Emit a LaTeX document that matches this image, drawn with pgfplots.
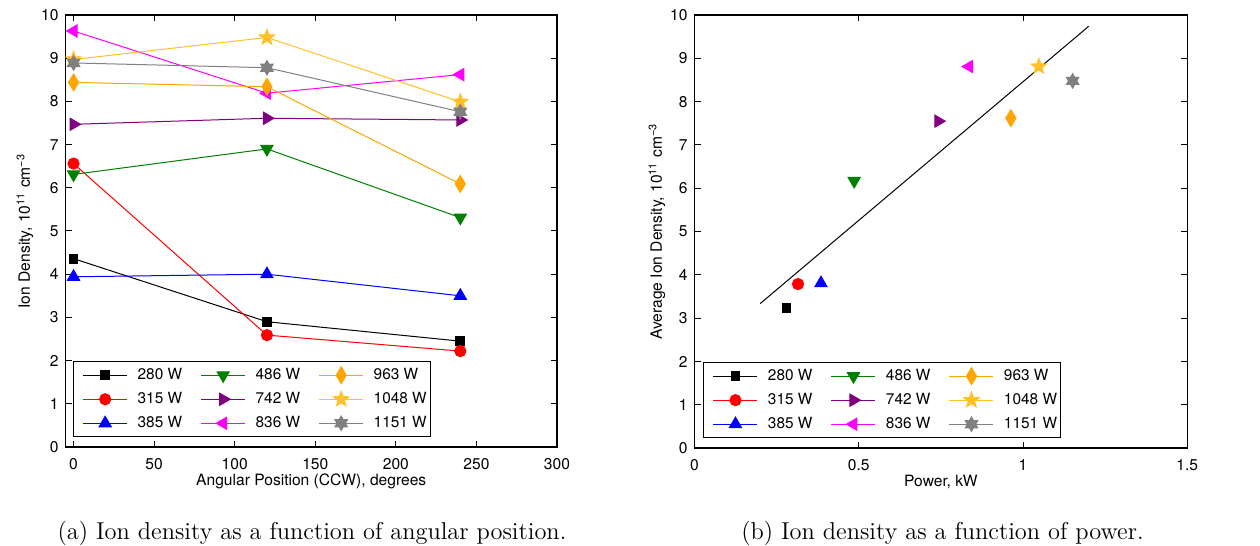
\documentclass[border=0pt]{standalone}
\usepackage{fontspec}
\usepackage{pgfplots}
\pgfplotsset{compat=1.18}
\newfontfamily\hv{TeX Gyre Heros}
\definecolor{mgreen}{rgb}{0,0.5,0}
\definecolor{mpurple}{rgb}{0.5,0,0.5}
\definecolor{mmagenta}{rgb}{1,0,1}
\definecolor{mred}{rgb}{1,0,0}
\definecolor{mblue}{rgb}{0,0,1}
\definecolor{morange}{rgb}{1,0.647,0}
\definecolor{mgold}{RGB}{255,192,40}
\definecolor{mgray}{rgb}{0.5,0.5,0.5}

\pgfdeclareplotmark{starfive}{%
  \pgfpathmoveto{\pgfqpointpolar{90}{\pgfplotmarksize}}%
  \pgfpathlineto{\pgfqpointpolar{126}{0.42\pgfplotmarksize}}%
  \pgfpathlineto{\pgfqpointpolar{162}{\pgfplotmarksize}}%
  \pgfpathlineto{\pgfqpointpolar{198}{0.42\pgfplotmarksize}}%
  \pgfpathlineto{\pgfqpointpolar{234}{\pgfplotmarksize}}%
  \pgfpathlineto{\pgfqpointpolar{270}{0.42\pgfplotmarksize}}%
  \pgfpathlineto{\pgfqpointpolar{306}{\pgfplotmarksize}}%
  \pgfpathlineto{\pgfqpointpolar{342}{0.42\pgfplotmarksize}}%
  \pgfpathlineto{\pgfqpointpolar{18}{\pgfplotmarksize}}%
  \pgfpathlineto{\pgfqpointpolar{54}{0.42\pgfplotmarksize}}%
  \pgfpathclose
  \pgfusepathqfillstroke
}
\pgfdeclareplotmark{hexagram}{%
  \pgfpathmoveto{\pgfqpointpolar{90}{\pgfplotmarksize}}%
  \pgfpathlineto{\pgfqpointpolar{120}{0.577\pgfplotmarksize}}%
  \pgfpathlineto{\pgfqpointpolar{150}{\pgfplotmarksize}}%
  \pgfpathlineto{\pgfqpointpolar{180}{0.577\pgfplotmarksize}}%
  \pgfpathlineto{\pgfqpointpolar{210}{\pgfplotmarksize}}%
  \pgfpathlineto{\pgfqpointpolar{240}{0.577\pgfplotmarksize}}%
  \pgfpathlineto{\pgfqpointpolar{270}{\pgfplotmarksize}}%
  \pgfpathlineto{\pgfqpointpolar{300}{0.577\pgfplotmarksize}}%
  \pgfpathlineto{\pgfqpointpolar{330}{\pgfplotmarksize}}%
  \pgfpathlineto{\pgfqpointpolar{0}{0.577\pgfplotmarksize}}%
  \pgfpathlineto{\pgfqpointpolar{30}{\pgfplotmarksize}}%
  \pgfpathlineto{\pgfqpointpolar{60}{0.577\pgfplotmarksize}}%
  \pgfpathclose
  \pgfusepathqfillstroke
}

\pgfplotsset{
  s280/.style={color=black, mark=square*, mark size=2.2pt},
  s315/.style={color=mred, mark=*, mark size=2.8pt},
  s385/.style={color=mblue, mark=triangle*, mark size=3.5pt},
  s486/.style={color=mgreen, mark=triangle*, mark size=3.5pt, mark options={rotate=180}},
  s742/.style={color=mpurple, mark=triangle*, mark size=3.5pt, mark options={rotate=-90}},
  s836/.style={color=mmagenta, mark=triangle*, mark size=3.5pt, mark options={rotate=90}},
  s963/.style={color=morange, mark=diamond*, mark size=4.2pt, mark options={xscale=0.8}},
  s1048/.style={color=mgold, mark=starfive, mark size=4pt},
  s1151/.style={color=mgray, mark=hexagram, mark size=3.6pt},
  mystyle/.style={
    scale only axis,
    axis line style={line width=0.8pt},
    tick align=inside,
    major tick length=3pt,
    tick style={black, line width=0.5pt},
    /pgf/number format/assume math mode=true,
    ticklabel style={font=\hv\fontsize{7.8}{9}\selectfont},
    xticklabel style={yshift=-2pt},
    label style={font=\hv\fontsize{7.8}{9.5}\selectfont},
    xlabel style={at={(axis description cs:0.5,0)}, anchor=base, yshift=-19.3pt},
    every axis plot/.append style={line width=0.5pt},
    legend columns=3, transpose legend, legend cell align=left,
    legend image code/.code={%
      \path[draw=none,fill=none] (-3.3pt,-6pt) rectangle (22pt,6pt);
      \draw[mark repeat=2,mark phase=2,##1] plot coordinates {(0pt,0pt)(11pt,0pt)(22pt,0pt)};},
    legend style={font=\hv\fontsize{7.7}{9}\selectfont, draw=black, line width=0.5pt,
      inner xsep=1.7pt, inner ysep=0.65pt, anchor=south west,
      nodes={inner xsep=0pt, inner ysep=0pt},
      /tikz/every odd column/.append style={column sep=5pt},
      /tikz/every even column/.append style={column sep=6.2pt}},
  },
  minorstyle/.style={
    scale only axis, hide y axis, axis x line*=bottom, xtick=\empty,
    xtick align=inside, minor tick length=2pt,
    x axis line style={line width=0.8pt},
    minor tick style={black, line width=0.5pt},
  },
}

\begin{document}
\begin{tikzpicture}
\useasboundingbox (0,0) rectangle (630pt,273pt);

% ---------- (a) ----------
\begin{axis}[mystyle, at={(32.75pt,49.5pt)}, anchor=south west,
  width=245.75pt, height=216pt,
  xmin=-5, xmax=300, ymin=0, ymax=10,
  xtick={0,50,...,300}, ytick={0,1,...,10},
  xlabel={Angular Position (CCW), degrees},
  ylabel={Ion Density, 10\textsuperscript{11} cm\textsuperscript{−3}},
  ylabel style={at={(axis description cs:-0.0824,0.5)}, anchor=center},
  legend style={at={(0.0146,0.023)}},
]
\addplot[s280] coordinates {(0,4.36) (120,2.90) (240,2.45)};
\addlegendentry{280 W}
\addplot[s315] coordinates {(0,6.56) (120,2.59) (240,2.22)};
\addlegendentry{315 W}
\addplot[s385] coordinates {(0,3.94) (120,4.00) (240,3.50)};
\addlegendentry{385 W}
\addplot[s486] coordinates {(0,6.31) (120,6.90) (240,5.31)};
\addlegendentry{486 W}
\addplot[s742] coordinates {(0,7.47) (120,7.61) (240,7.57)};
\addlegendentry{742 W}
\addplot[s836] coordinates {(0,9.63) (120,8.19) (240,8.62)};
\addlegendentry{836 W}
\addplot[s963] coordinates {(0,8.44) (120,8.34) (240,6.09)};
\addlegendentry{963 W}
\addplot[s1048] coordinates {(0,8.97) (120,9.48) (240,7.99)};
\addlegendentry{1048 W}
\addplot[s1151] coordinates {(0,8.89) (120,8.78) (240,7.76)};
\addlegendentry{1151 W}
\end{axis}
\begin{axis}[minorstyle, at={(32.75pt,49.5pt)}, anchor=south west,
  width=245.75pt, height=216pt, xmin=-5, xmax=300, ymin=0, ymax=10,
  minor xtick={10,20,30,40,60,70,80,90,110,120,130,140,160,170,180,190,210,220,230,240,260,270,280,290}]
\end{axis}

% ---------- (b) ----------
\begin{axis}[mystyle, at={(347.25pt,48.85pt)}, anchor=south west,
  width=246.4pt, height=216.65pt,
  xmin=0, xmax=1.5, ymin=0, ymax=10,
  xtick={0,0.5,1,1.5}, ytick={0,1,...,10},
  xlabel={Power, kW},
  ylabel={Average Ion Density, 10\textsuperscript{11} cm\textsuperscript{−3}},
  ylabel style={at={(axis description cs:-0.0761,0.5)}, anchor=center},
  legend style={at={(0.0172,0.0238)}},
]
\addplot[s280] coordinates {(0.280,3.24)};
\addlegendentry{280 W}
\addplot[s315] coordinates {(0.315,3.79)};
\addlegendentry{315 W}
\addplot[s385] coordinates {(0.385,3.81)};
\addlegendentry{385 W}
\addplot[s486] coordinates {(0.486,6.17)};
\addlegendentry{486 W}
\addplot[s742] coordinates {(0.742,7.55)};
\addlegendentry{742 W}
\addplot[s836] coordinates {(0.836,8.81)};
\addlegendentry{836 W}
\addplot[s963] coordinates {(0.963,7.62)};
\addlegendentry{963 W}
\addplot[s1048] coordinates {(1.048,8.81)};
\addlegendentry{1048 W}
\addplot[s1151] coordinates {(1.151,8.48)};
\addlegendentry{1151 W}
\addplot[black, no marks, forget plot] coordinates {(0.2,3.34) (1.2,9.74)};
\end{axis}
\begin{axis}[minorstyle, at={(347.25pt,48.85pt)}, anchor=south west,
  width=246.4pt, height=216.65pt, xmin=0, xmax=1.5, ymin=0, ymax=10,
  minor xtick={0.1,0.2,0.3,0.4,0.6,0.7,0.8,0.9,1.1,1.2,1.3,1.4}]
\end{axis}

\node[anchor=base, font=\fontsize{12.2}{14}\selectfont] at (156pt,3.35pt) {(a) Ion density as a function of angular position.};
\node[anchor=base, font=\fontsize{12.2}{14}\selectfont] at (471.25pt,3.35pt) {(b) Ion density as a function of power.};
\end{tikzpicture}
\end{document}
